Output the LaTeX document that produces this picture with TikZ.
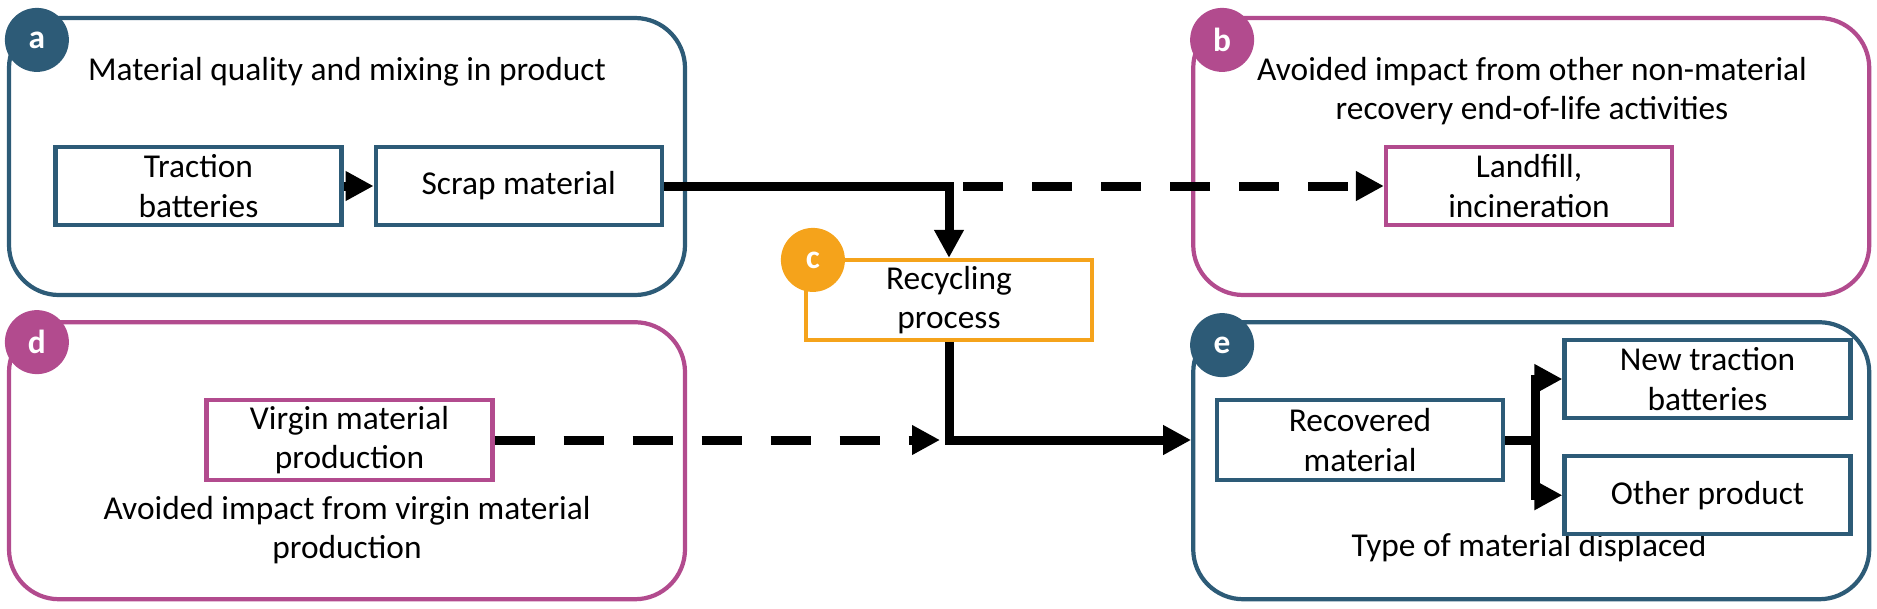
\documentclass[tikz,border=0pt]{standalone}
\usepackage{fontspec}
\setmainfont{Carlito}
\usepackage{xcolor}
\usepackage{tikz}
\usetikzlibrary{shapes,arrows.meta,positioning,calc}

\definecolor{tealblue}{HTML}{2D5B77}
\definecolor{plum}{HTML}{B24B8E}
\definecolor{amber}{HTML}{F5A31B}

\begin{document}
\begin{tikzpicture}[
    font=\fontsize{9.5}{11.3}\selectfont,
    group/.style={rectangle, draw, line width=1.2pt, rounded corners=0.5cm, minimum width=6.76cm, minimum height=2.77cm},
    stage/.style={rectangle, draw, fill=white, line width=1.2pt, minimum width=2.86cm, minimum height=0.78cm, align=center, inner sep=1pt},
    tag/.style={circle, minimum size=0.64cm, inner sep=0pt, text=white, font=\fontsize{9.5}{11}\selectfont\bfseries},
    title/.style={align=center},
    arrow/.style={-{Triangle[length=0.28cm, width=0.28cm]}, line width=0.09cm},
    dashed_arrow/.style={arrow, dash pattern=on 0.4cm off 0.29cm}
]
\useasboundingbox (0,0) rectangle (18.77,6.08);

% four groups
\node[group, draw=tealblue] at (3.47,4.515) (quality) {};
\node[group, draw=plum, right=5.04cm of quality] (othereol) {};
\node[group, draw=plum, below=0.23cm of quality] (virginimp) {};
\node[group, draw=tealblue, below=0.23cm of othereol] (displaced) {};

\node[title] at (3.47,5.36) (quality-t) {Material quality and mixing in product};
\node[title] at (15.32,5.17) (othereol-t) {Avoided impact from other non-material\\recovery end-of-life activities};
\node[title] at (3.47,0.78) (virginimp-t) {Avoided impact from virgin material\\production};
\node[title] at (15.29,0.6) (displaced-t) {Type of material displaced};

% process boxes
\node[stage, draw=tealblue] at (1.985,4.22) (traction) {Traction\\batteries};
\node[stage, draw=tealblue, right=0.3cm of traction] (scrap) {Scrap material};
\node[stage, draw=plum] at (15.29,4.22) (landfill) {Landfill,\\incineration};
\node[stage, draw=amber, minimum height=0.8cm] at (9.49,3.08) (recycling) {Recycling\\process};
\node[stage, draw=plum, minimum height=0.8cm] at (3.495,1.68) (virgin) {Virgin material\\production};
\node[stage, draw=tealblue, minimum height=0.8cm] at (13.6,1.68) (recovered) {Recovered\\material};
\node[stage, draw=tealblue] at (17.075,2.29) (newbatt) {New traction\\batteries};
\node[stage, draw=tealblue, below=0.34cm of newbatt] (otherprod) {Other product};

% connectors
\coordinate (split) at (recycling.north |- scrap.east);
\coordinate (merge) at (recycling.south |- virgin.east);
\coordinate (fork) at ($(recovered.east)+(0.3,0)$);

\draw[arrow] (traction) -- (scrap);
\draw[arrow] (scrap.east) -| (recycling.north);
\draw[dashed_arrow] ([xshift=0.14cm]split) -- (landfill.west);
\draw[dashed_arrow] (virgin.east) -- ([xshift=-0.09cm]merge);
\draw[arrow] (recycling.south) |- (displaced.west |- recovered.west);
\draw[line width=0.09cm] (recovered.east) -- (fork);
\draw[arrow] (fork) |- (newbatt.west);
\draw[arrow] (fork) |- (otherprod.west);

% letter tags
\node[tag, fill=tealblue] at ([xshift=0.3cm, yshift=-0.24cm]quality.north west) (tag-a) {a};
\node[tag, fill=plum] at ([xshift=0.31cm, yshift=-0.24cm]othereol.north west) (tag-b) {b};
\node[tag, fill=amber] at ([xshift=0.09cm, yshift=-0.02cm]recycling.north west) (tag-c) {c};
\node[tag, fill=plum] at ([xshift=0.3cm, yshift=-0.22cm]virginimp.north west) (tag-d) {d};
\node[tag, fill=tealblue] at ([xshift=0.31cm, yshift=-0.25cm]displaced.north west) (tag-e) {e};

\end{tikzpicture}
\end{document}
